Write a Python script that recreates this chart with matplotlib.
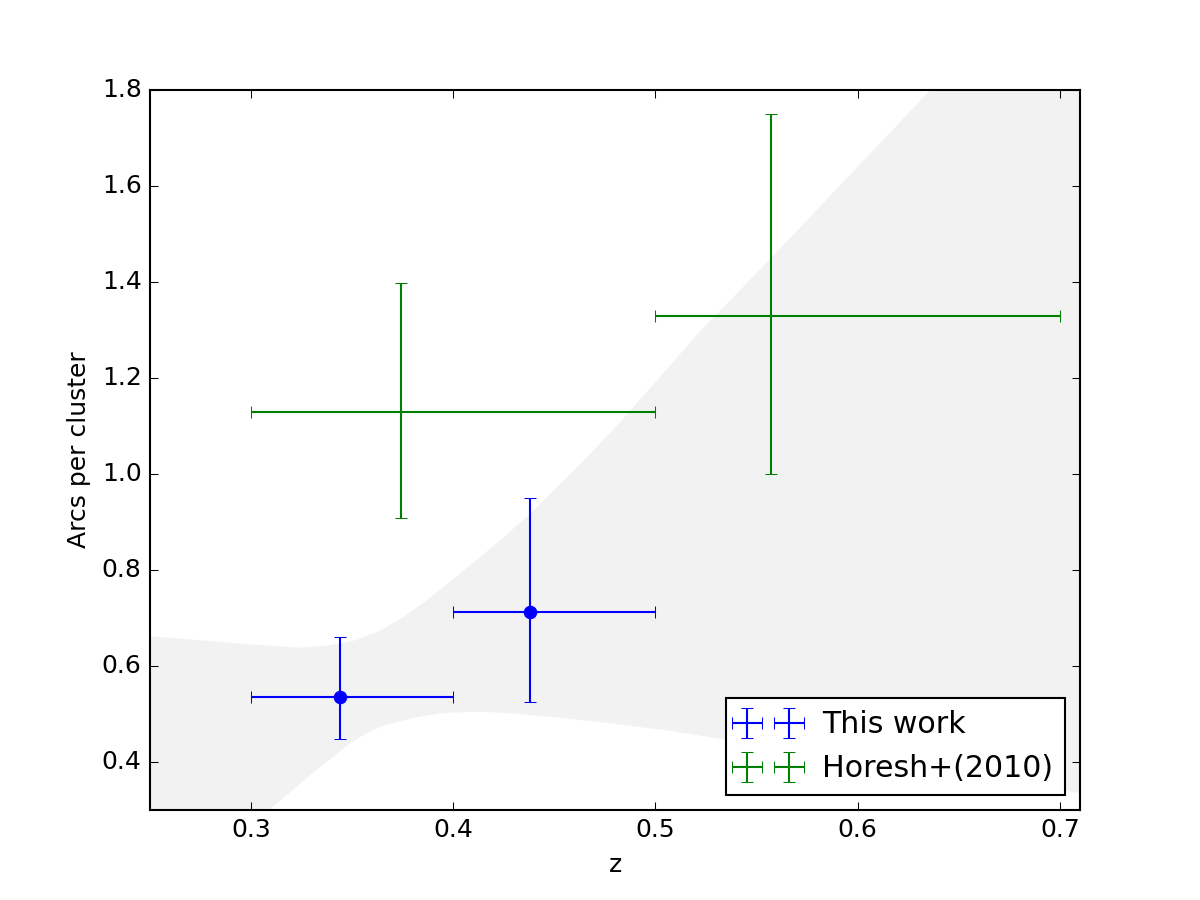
import matplotlib
matplotlib.use("Agg")
import matplotlib.pyplot as plt
import numpy as np

plt.style.use("classic")

# ── data ─────────────────────────────────────────────────────────────────────
# this work
z_this     = [0.344, 0.438]
arcs_this  = [0.536, 0.713]
xlo_this   = [0.30, 0.40]
xhi_this   = [0.40, 0.50]
ylo_this   = [0.447, 0.524]
yhi_this   = [0.660, 0.951]

# Horesh+(2010)
z_hor      = [0.374, 0.557]
arcs_hor   = [1.129, 1.329]
xlo_hor    = [0.30, 0.50]
xhi_hor    = [0.50, 0.70]
ylo_hor    = [0.909, 1.000]
yhi_hor    = [1.398, 1.749]

# shaded band (model range)
band_z_hi  = [0.25, 0.28, 0.30, 0.324, 0.339, 0.352, 0.364, 0.376, 0.3885, 0.408,
              0.423, 0.438, 0.463, 0.483, 0.522, 0.557, 0.636, 0.71]
band_hi    = [0.662, 0.652, 0.645, 0.638, 0.643, 0.654, 0.674, 0.704, 0.742, 0.809,
              0.861, 0.917, 1.021, 1.110, 1.297, 1.449, 1.800, 2.130]
band_z_lo  = [0.25, 0.28, 0.309, 0.33, 0.349, 0.357, 0.365, 0.38, 0.395, 0.413,
              0.43, 0.453, 0.4726, 0.5057, 0.537, 0.58, 0.62, 0.66, 0.71]
band_lo    = [0.09, 0.19, 0.30, 0.375, 0.439, 0.460, 0.475, 0.492, 0.502, 0.505,
              0.501, 0.492, 0.483, 0.466, 0.445, 0.420, 0.395, 0.370, 0.335]


def asym(c, lo, hi):
    c, lo, hi = map(np.asarray, (c, lo, hi))
    return np.vstack([c - lo, hi - c])


fig = plt.figure(figsize=(8, 6), dpi=150)
ax = fig.add_subplot(111)

# band between the two boundaries on a common grid
zz = np.union1d(band_z_hi, band_z_lo)
ax.fill_between(zz, np.interp(zz, band_z_lo, band_lo),
                np.interp(zz, band_z_hi, band_hi),
                color="gray", alpha=0.1, linewidth=0, zorder=1)

ax.errorbar(z_this, arcs_this,
            xerr=asym(z_this, xlo_this, xhi_this),
            yerr=asym(arcs_this, ylo_this, yhi_this),
            fmt="none", ecolor="b", label="This work", zorder=3)
ax.plot(z_this, arcs_this, "o", color="b", mec="b", zorder=4)
ax.errorbar(z_hor, arcs_hor,
            xerr=asym(z_hor, xlo_hor, xhi_hor),
            yerr=asym(arcs_hor, ylo_hor, yhi_hor),
            fmt="none", ecolor="g", label="Horesh+(2010)", zorder=3)

ax.set_xlim(0.25, 0.71)
ax.set_ylim(0.3, 1.8)
ax.set_xticks([0.3, 0.4, 0.5, 0.6, 0.7])
ax.set_xlabel("z")
ax.set_ylabel("Arcs per cluster")
ax.legend(loc="lower right", numpoints=2, fontsize="large")

plt.savefig("out.png", dpi=150)
